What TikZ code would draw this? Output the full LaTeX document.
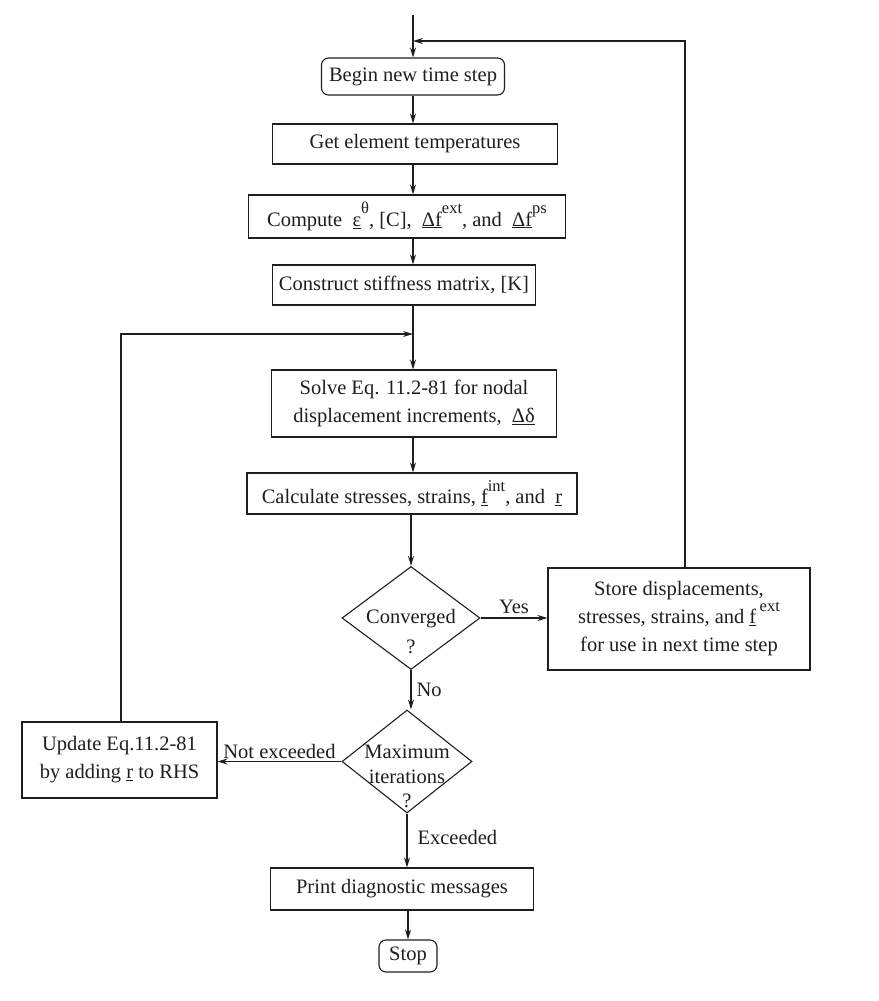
\documentclass[tikz,border=0pt]{standalone}
\usepackage{fontspec}
\setmainfont{Liberation Serif}
\usetikzlibrary{shapes.geometric,arrows.meta}
\definecolor{ink}{RGB}{30,30,30}
\newcommand{\sps}[1]{\raisebox{0.6em}{\fontsize{16.5}{16.5}\selectfont #1}}
\tikzset{
  line/.style={draw=ink,line width=1.1pt},
  arr/.style={line,-{Stealth[length=10pt,width=6pt]}},
  txt/.style={text=ink,align=center,font=\fontsize{20.5}{28}\selectfont},
  box/.style={line,rectangle,txt,inner sep=0pt},
  rbox/.style={box,rounded corners=7pt},
  dec/.style={line,diamond,inner sep=0pt},
  lbl/.style={txt,inner sep=2pt}
}
\begin{document}
\begin{tikzpicture}[x=1pt,y=-1pt]
\useasboundingbox (0,0) rectangle (878,1001);
\node[rbox,minimum width=183pt,minimum height=37pt] (begin) at (413,76.5) {Begin new time step};
\node[box,minimum width=285pt,minimum height=40pt] (get) at (415,144) {Get element temperatures};
\node[box,minimum width=317pt,minimum height=43pt] (comp) at (407,216.5) {Compute\ \ \underline{ε}\sps{θ}, [C],\ \ \underline{Δf}\sps{ext}, and\ \ \underline{Δf}\sps{ps}};
\node[box,minimum width=263pt,minimum height=40pt] (cons) at (404,285) {Construct stiffness matrix, [K]};
\node[box,minimum width=285pt,minimum height=67pt] (solve) at (414,403.5) {Solve Eq. 11.2-81 for nodal\\displacement increments,\ \ \underline{Δδ}};
\node[box,minimum width=330pt,minimum height=41pt] (calc) at (412,493.5) {Calculate stresses, strains, \underline{f}\sps{int}, and\ \ \underline{r}};
\node[dec,minimum width=138pt,minimum height=103pt,
  label={[txt,yshift=-14pt]center:Converged\\[2pt]?}] (conv) at (411,618) {};
\node[box,minimum width=262pt,minimum height=102pt] (store) at (679,619) {Store displacements,\\stresses, strains, and \underline{f}\,\sps{ext}\\for use in next time step};
\node[dec,minimum width=130pt,minimum height=103pt,
  label={[txt,yshift=-15pt,font=\fontsize{20.5}{24.5}\selectfont]center:Maximum\\iterations\\?}] (maxit) at (407,761.5) {};
\node[box,minimum width=195pt,minimum height=76pt] (upd) at (119.5,760) {Update Eq.11.2-81\\by adding \underline{r} to RHS};
\node[box,minimum width=263pt,minimum height=42pt] (print) at (402,889) {Print diagnostic messages};
\node[rbox,minimum width=58pt,minimum height=32pt] (stop) at (408,956) {Stop};
\coordinate (start) at (413,15);
\coordinate (topturn) at (685,41);
\coordinate (leftturn) at (121,334);
% main flow
\draw[arr] (start) -- (begin.north);
\draw[arr] (begin.south) -- (begin.south |- get.north);
\draw[arr] (begin.south |- get.south) -- (begin.south |- comp.north);
\draw[arr] (begin.south |- comp.south) -- (begin.south |- cons.north);
\draw[arr] (begin.south |- cons.south) -- (begin.south |- solve.north);
\draw[arr] (begin.south |- solve.south) -- (begin.south |- calc.north);
\draw[arr] (conv.north |- calc.south) -- (conv.north);
\draw[arr] (conv.south) -- node[lbl,right,pos=0.5,xshift=3pt]{No} (conv.south |- maxit.north);
\draw[arr] (conv.east) -- node[lbl,above,pos=0.5,yshift=2pt]{Yes} (conv.east -| store.west);
\draw[arr] (maxit.west) -- node[lbl,above,pos=0.5]{Not exceeded} (maxit.west -| upd.east);
\draw[arr] (maxit.south) -- node[lbl,right,pos=0.45,xshift=8pt]{Exceeded} (maxit.south |- print.north);
\draw[arr] (stop.north |- print.south) -- (stop.north);
% feedback loops
\draw[arr] (store.north -| topturn) -- (topturn) -- (start |- topturn);
\draw[arr] (upd.north -| leftturn) -- (leftturn) -- (begin.south |- leftturn);
\end{tikzpicture}
\end{document}
